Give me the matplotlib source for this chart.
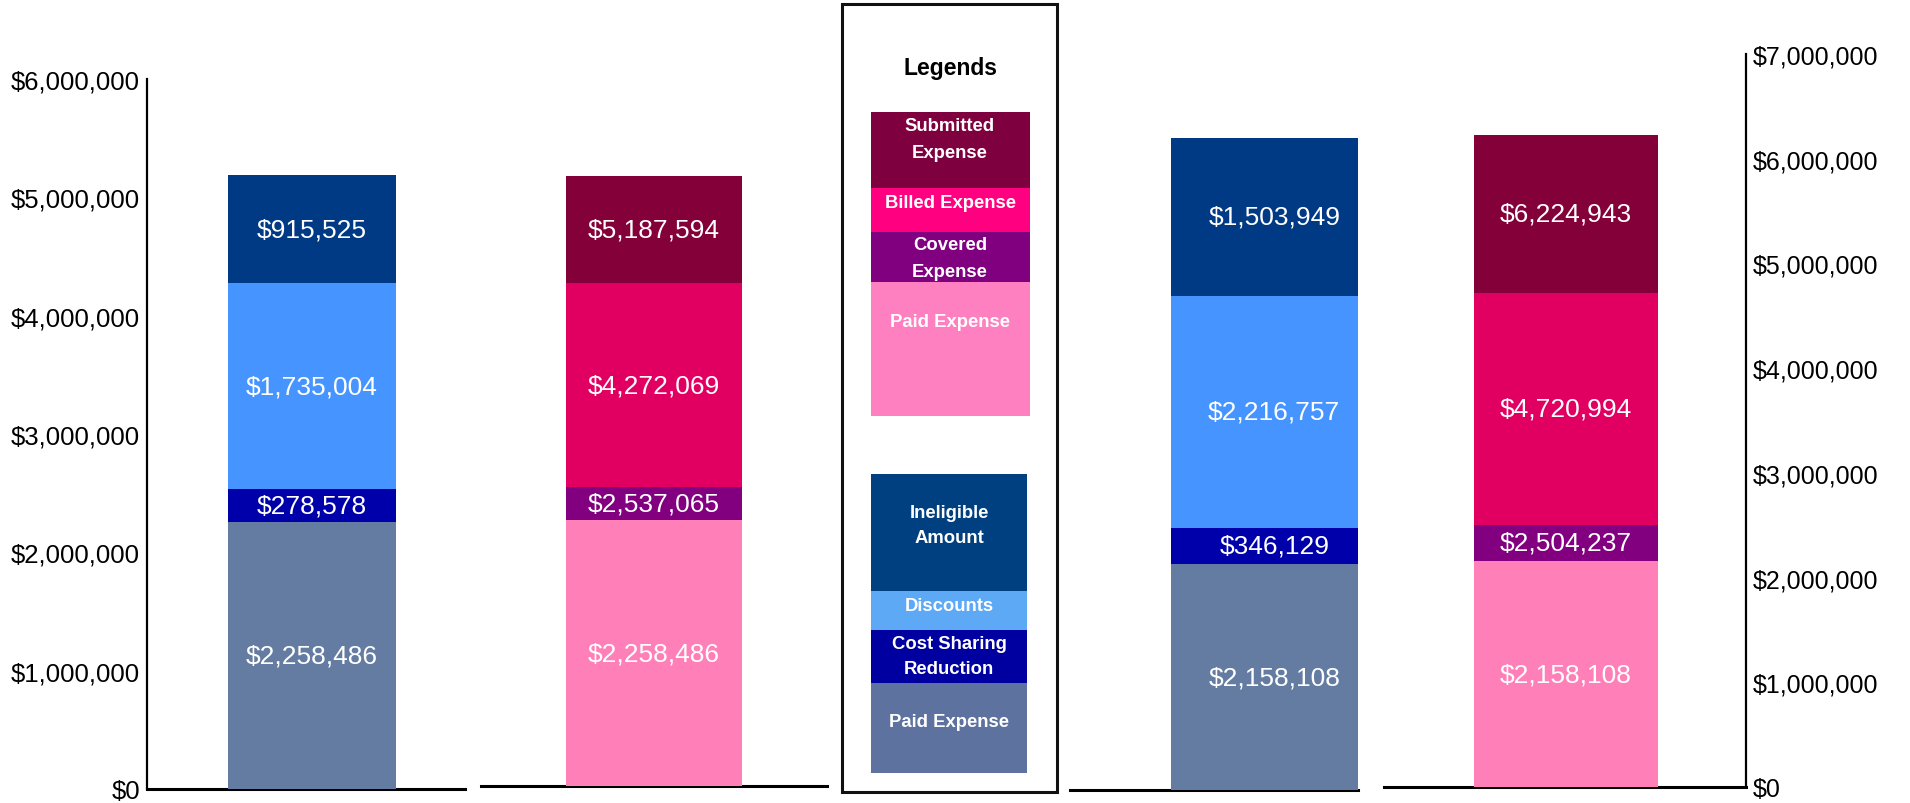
import matplotlib.pyplot as plt
from matplotlib.patches import Rectangle
from matplotlib.ticker import FuncFormatter, MultipleLocator
import numpy as np

plt.rcParams['font.family'] = ['Liberation Sans', 'DejaVu Sans']

# --- data ---
# blue bars: segment values (paid, cost sharing, discounts, ineligible)
left_blue = [2258486, 278578, 1735004, 915525]
right_blue = [2158108, 346129, 2216757, 1503949]
# pink bars: cumulative values (paid, covered, billed, submitted)
left_pink = [2258486, 2537065, 4272069, 5187594]
right_pink = [2158108, 2504237, 4720994, 6224943]

blue_colors = ['#647CA2', '#0000AA', '#4694FF', '#003A84']
pink_colors = ['#FF7FB8', '#82007F', '#E10062', '#830038']

legend_top = ['Submitted\nExpense', 'Billed Expense', 'Covered\nExpense', 'Paid Expense']
legend_top_colors = ['#7F003F', '#FF0080', '#800080', '#FF80C0']
legend_bottom = ['Ineligible\nAmount', 'Discounts', 'Cost Sharing\nReduction', 'Paid Expense']
legend_bottom_colors = ['#004080', '#5DA9F6', '#0000A0', '#5E72A0']

W, H = 1910, 804
fig = plt.figure(figsize=(W / 100, H / 100), dpi=100)
money = FuncFormatter(lambda v, p: f"${v:,.0f}")


def panel(left, right, bottom, top, bar_l, bar_r, ymax):
    ax = fig.add_axes([left / W, (H - bottom) / H, (right - left) / W, (bottom - top) / H])
    c = (bar_l + bar_r) / 2
    w = bar_r - bar_l
    ax.set_xlim((left - c) / w, (right - c) / w)
    ax.set_ylim(0, ymax)
    for s in ax.spines.values():
        s.set_visible(False)
    ax.spines['bottom'].set_visible(True)
    ax.spines['bottom'].set_linewidth(2.2)
    ax.set_xticks([])
    ax.set_yticks([])
    ax.patch.set_alpha(0)
    return ax


def stack(ax, heights, colors, labels, dx=0):
    bottom = 0
    for h, col, lab in zip(heights, colors, labels):
        ax.bar(0, h, width=1, bottom=bottom, color=col, zorder=3)
        ax.annotate(f"${lab:,.0f}", (0, bottom + h / 2), xytext=(dx, 0),
                    textcoords='offset points', ha='center', va='center',
                    color='white', fontsize=19, zorder=4)
        bottom += h


# left pair
axA = panel(147, 465, 790, 80, 228, 396, 6e6)
axA.spines['left'].set_visible(True)
axA.spines['left'].set_linewidth(1.6)
axA.yaxis.set_major_locator(MultipleLocator(1e6))
axA.yaxis.set_major_formatter(money)
axA.tick_params(axis='y', length=0, pad=5, labelsize=18.5)
stack(axA, left_blue, blue_colors, left_blue)

axB = panel(481, 827, 787, 81, 566, 742, 6e6)
stack(axB, np.diff([0] + left_pink), pink_colors, left_pink)

# right pair
axC = panel(1070, 1358, 791, 58, 1171, 1358, 7e6)
stack(axC, right_blue, blue_colors, right_blue, dx=7)

axD = panel(1384, 1746, 788, 55, 1474, 1658, 7e6)
axD.spines['right'].set_visible(True)
axD.spines['right'].set_linewidth(1.6)
axD.yaxis.tick_right()
axD.yaxis.set_major_locator(MultipleLocator(1e6))
axD.yaxis.set_major_formatter(money)
axD.tick_params(axis='y', length=0, pad=5, labelsize=18)
stack(axD, np.diff([0] + right_pink), pink_colors, right_pink)

# legend box, drawn in pixel coordinates
lg = fig.add_axes([0, 0, 1, 1], zorder=-1)
lg.set_xlim(0, W)
lg.set_ylim(H, 0)
lg.axis('off')
lg.add_patch(Rectangle((842, 5), 215, 788, fill=False, lw=2.2, ec='#111111'))
lg.text(950, 68, 'Legends', ha='center', va='center', fontsize=16.5, fontweight='bold')

top_edges = [113, 189, 233, 283, 417]
top_text_y = [140, 203, 259, 323]
for i, (lab, col) in enumerate(zip(legend_top, legend_top_colors)):
    lg.add_patch(Rectangle((871, top_edges[i]), 159, top_edges[i + 1] - top_edges[i], color=col, lw=0))
    lg.text(950, top_text_y[i], lab, ha='center', va='center', color='white',
            fontsize=13.3, fontweight='bold', linespacing=1.7)

bot_edges = [475, 592, 631, 684, 774]
bot_text_y = [526, 607, 657, 723]
for i, (lab, col) in enumerate(zip(legend_bottom, legend_bottom_colors)):
    lg.add_patch(Rectangle((871, bot_edges[i]), 156, bot_edges[i + 1] - bot_edges[i], color=col, lw=0))
    lg.text(949, bot_text_y[i], lab, ha='center', va='center', color='white',
            fontsize=13.3, fontweight='bold', linespacing=1.65)

plt.savefig('out.png', dpi=100)
